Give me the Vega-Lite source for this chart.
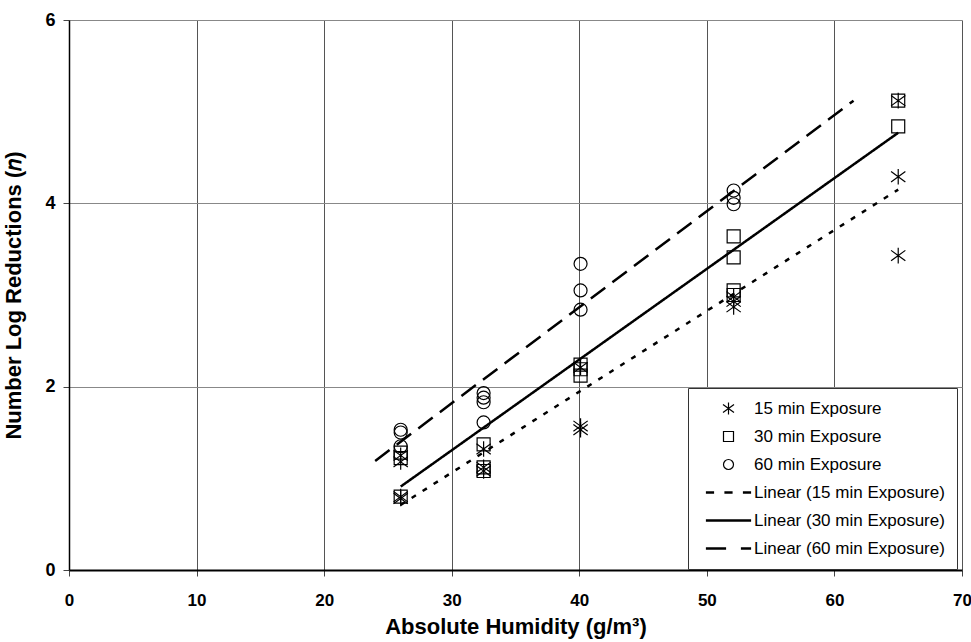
{
  "$schema": "https://vega.github.io/schema/vega-lite/v6.json",
  "width": 893,
  "height": 550,
  "autosize": {"type": "none"},
  "padding": {"left": 69, "top": 20, "right": 9, "bottom": 72},
  "background": "white",
  "config": {"font": "Liberation Sans", "view": {"stroke": null}},
  "encoding": {
    "x": {
      "field": "humidity", "type": "quantitative",
      "scale": {"domain": [0, 70], "nice": false},
      "axis": {
        "title": "Absolute Humidity (g/m³)",
        "values": [0, 10, 20, 30, 40, 50, 60, 70],
        "grid": true, "gridColor": "#555555", "gridWidth": 1,
        "domainColor": "#000000", "domainWidth": 2,
        "tickColor": "#444444", "tickSize": 6, "tickWidth": 1,
        "labelFont": "Liberation Sans", "labelFontWeight": "bold", "labelFontSize": 17,
        "labelColor": "#000000", "labelPadding": 16, "labelFlush": false,
        "titleFont": "Liberation Sans", "titleFontSize": 22, "titleFontWeight": "bold",
        "titleColor": "#000000", "titlePadding": 8
      }
    },
    "y": {
      "field": "reduction", "type": "quantitative",
      "scale": {"domain": [0, 6], "nice": false},
      "axis": {
        "title": "Number Log Reductions (𝑛)",
        "values": [0, 2, 4, 6],
        "grid": true, "gridColor": "#888888", "gridWidth": 1,
        "domainColor": "#000000", "domainWidth": 1.5,
        "tickColor": "#444444", "tickSize": 6, "tickWidth": 1,
        "labelFont": "Liberation Sans", "labelFontWeight": "bold", "labelFontSize": 18,
        "labelColor": "#000000", "labelPadding": 8,
        "titleFont": "Liberation Sans", "titleFontSize": 22, "titleFontWeight": "bold",
        "titleColor": "#000000", "titlePadding": 19
      }
    }
  },
  "layer": [
    {
      "data": {"values": [
        {"fit": "Linear (15 min Exposure)", "humidity": 26, "reduction": 0.71},
        {"fit": "Linear (15 min Exposure)", "humidity": 65, "reduction": 4.15},
        {"fit": "Linear (30 min Exposure)", "humidity": 26, "reduction": 0.91},
        {"fit": "Linear (30 min Exposure)", "humidity": 65, "reduction": 4.77},
        {"fit": "Linear (60 min Exposure)", "humidity": 24, "reduction": 1.19},
        {"fit": "Linear (60 min Exposure)", "humidity": 61.5, "reduction": 5.12}
      ]},
      "mark": {"type": "line", "color": "#000000", "strokeWidth": 2.5, "strokeCap": "butt"},
      "encoding": {
        "strokeDash": {
          "field": "fit", "type": "nominal",
          "scale": {
            "domain": ["Linear (15 min Exposure)", "Linear (30 min Exposure)", "Linear (60 min Exposure)"],
            "range": [[5, 8], [1, 0], [18, 9]]
          },
          "legend": null
        }
      }
    },
    {
      "data": {"values": [
        {"exposure": "15 min Exposure", "humidity": 26, "reduction": 1.25},
        {"exposure": "15 min Exposure", "humidity": 26, "reduction": 1.18},
        {"exposure": "15 min Exposure", "humidity": 26, "reduction": 0.80},
        {"exposure": "15 min Exposure", "humidity": 26, "reduction": 0.78},
        {"exposure": "15 min Exposure", "humidity": 32.5, "reduction": 1.32},
        {"exposure": "15 min Exposure", "humidity": 32.5, "reduction": 1.12},
        {"exposure": "15 min Exposure", "humidity": 32.5, "reduction": 1.08},
        {"exposure": "15 min Exposure", "humidity": 40.1, "reduction": 2.21},
        {"exposure": "15 min Exposure", "humidity": 40.1, "reduction": 1.57},
        {"exposure": "15 min Exposure", "humidity": 40.1, "reduction": 1.53},
        {"exposure": "15 min Exposure", "humidity": 52.1, "reduction": 2.98},
        {"exposure": "15 min Exposure", "humidity": 52.1, "reduction": 2.93},
        {"exposure": "15 min Exposure", "humidity": 52.1, "reduction": 2.87},
        {"exposure": "15 min Exposure", "humidity": 65, "reduction": 5.12},
        {"exposure": "15 min Exposure", "humidity": 65, "reduction": 4.29},
        {"exposure": "15 min Exposure", "humidity": 65, "reduction": 3.43},
        {"exposure": "30 min Exposure", "humidity": 26, "reduction": 1.28},
        {"exposure": "30 min Exposure", "humidity": 26, "reduction": 1.22},
        {"exposure": "30 min Exposure", "humidity": 26, "reduction": 0.80},
        {"exposure": "30 min Exposure", "humidity": 32.5, "reduction": 1.37},
        {"exposure": "30 min Exposure", "humidity": 32.5, "reduction": 1.12},
        {"exposure": "30 min Exposure", "humidity": 32.5, "reduction": 1.08},
        {"exposure": "30 min Exposure", "humidity": 40.1, "reduction": 2.24},
        {"exposure": "30 min Exposure", "humidity": 40.1, "reduction": 2.19},
        {"exposure": "30 min Exposure", "humidity": 40.1, "reduction": 2.12},
        {"exposure": "30 min Exposure", "humidity": 52.1, "reduction": 3.64},
        {"exposure": "30 min Exposure", "humidity": 52.1, "reduction": 3.41},
        {"exposure": "30 min Exposure", "humidity": 52.1, "reduction": 3.05},
        {"exposure": "30 min Exposure", "humidity": 52.1, "reduction": 3.00},
        {"exposure": "30 min Exposure", "humidity": 65, "reduction": 5.12},
        {"exposure": "30 min Exposure", "humidity": 65, "reduction": 4.84},
        {"exposure": "60 min Exposure", "humidity": 26, "reduction": 1.53},
        {"exposure": "60 min Exposure", "humidity": 26, "reduction": 1.50},
        {"exposure": "60 min Exposure", "humidity": 26, "reduction": 1.35},
        {"exposure": "60 min Exposure", "humidity": 32.5, "reduction": 1.93},
        {"exposure": "60 min Exposure", "humidity": 32.5, "reduction": 1.88},
        {"exposure": "60 min Exposure", "humidity": 32.5, "reduction": 1.83},
        {"exposure": "60 min Exposure", "humidity": 32.5, "reduction": 1.61},
        {"exposure": "60 min Exposure", "humidity": 40.1, "reduction": 3.34},
        {"exposure": "60 min Exposure", "humidity": 40.1, "reduction": 3.05},
        {"exposure": "60 min Exposure", "humidity": 40.1, "reduction": 2.84},
        {"exposure": "60 min Exposure", "humidity": 52.1, "reduction": 4.14},
        {"exposure": "60 min Exposure", "humidity": 52.1, "reduction": 4.06},
        {"exposure": "60 min Exposure", "humidity": 52.1, "reduction": 3.99}
      ]},
      "mark": {"type": "point", "filled": false, "stroke": "#000000", "strokeWidth": 1.2, "size": 169, "opacity": 1},
      "encoding": {
        "shape": {
          "field": "exposure", "type": "nominal",
          "scale": {
            "domain": ["15 min Exposure", "30 min Exposure", "60 min Exposure", "Linear (15 min Exposure)", "Linear (30 min Exposure)", "Linear (60 min Exposure)"],
            "range": [
              "M0,-1.2L0,1.2M-1.1,-0.8L1.1,0.8M-1.1,0.8L1.1,-0.8",
              "square",
              "circle",
              "M-4.4,-0.13L-3,-0.13L-3,0.13L-4.4,0.13ZM-0.7,-0.13L0.7,-0.13L0.7,0.13L-0.7,0.13ZM3,-0.13L4.4,-0.13L4.4,0.13L3,0.13Z",
              "M-4.4,-0.13L4.4,-0.13L4.4,0.13L-4.4,0.13Z",
              "M-4.4,-0.13L-0.6,-0.13L-0.6,0.13L-4.4,0.13ZM2.6,-0.13L4.4,-0.13L4.4,0.13L2.6,0.13Z"
            ]
          },
          "legend": {
            "title": null,
            "orient": "none",
            "legendX": 619,
            "legendY": 368,
            "direction": "vertical",
            "strokeColor": "#333333",
            "fillColor": "#ffffff",
            "padding": 12,
            "symbolSize": 100,
            "symbolStrokeColor": "#000000",
            "symbolFillColor": "transparent",
            "symbolStrokeWidth": 1.2,
            "symbolOffset": 20,
            "labelOffset": 17,
            "labelFont": "Liberation Sans",
            "labelFontSize": 17,
            "labelColor": "#000000",
            "labelLimit": 400,
            "rowPadding": 10
          }
        }
      }
    }
  ]
}
